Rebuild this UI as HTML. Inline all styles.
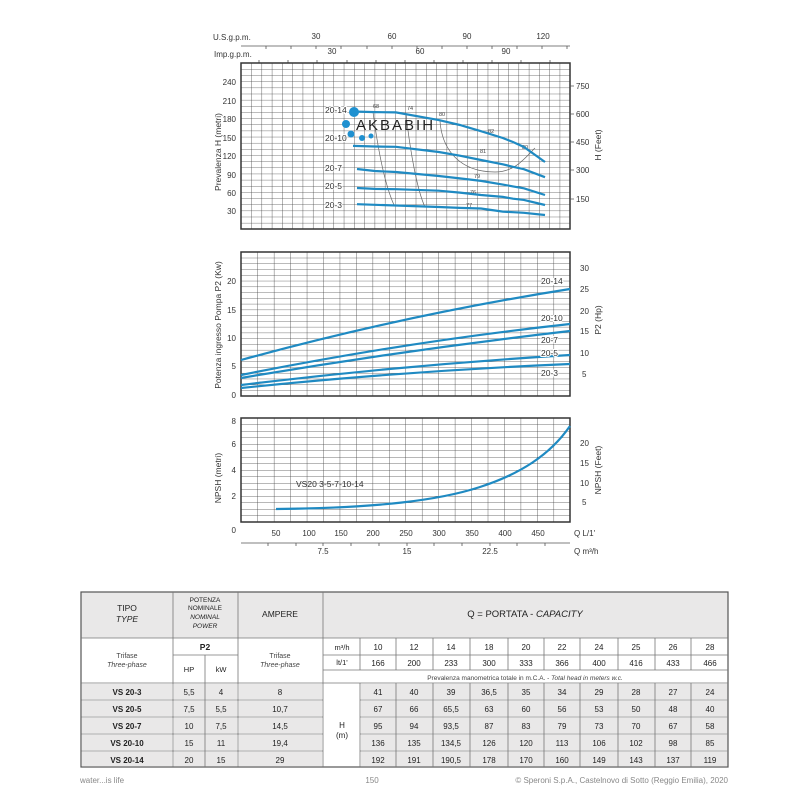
<!DOCTYPE html>
<html><head><meta charset="utf-8"><style>
html,body{margin:0;padding:0;background:#fff}
svg{display:block;font-family:"Liberation Sans",sans-serif}
</style></head><body>
<svg width="800" height="800" viewBox="0 0 800 800" xmlns="http://www.w3.org/2000/svg">
<defs>
<pattern id="g1" x="241" y="63" width="10.28" height="6.15" patternUnits="userSpaceOnUse">
<path d="M0,0V6.15M0,0H10.28" stroke="#444" stroke-width="0.8" fill="none"/></pattern>
<pattern id="g2" x="241" y="252" width="16.45" height="5.76" patternUnits="userSpaceOnUse">
<path d="M0,0V5.76M0,0H16.45" stroke="#444" stroke-width="0.8" fill="none"/></pattern>
<pattern id="g3" x="241" y="418" width="16.45" height="6.5" patternUnits="userSpaceOnUse">
<path d="M0,0V6.5M0,0H16.45" stroke="#444" stroke-width="0.8" fill="none"/></pattern>
</defs>

<!-- top axes -->
<g font-size="8" fill="#333">
<text x="213" y="40">U.S.g.p.m.</text>
<text x="214" y="57">Imp.g.p.m.</text>
<text x="316" y="39" text-anchor="middle">30</text><text x="392" y="39" text-anchor="middle">60</text>
<text x="467" y="39" text-anchor="middle">90</text><text x="543" y="39" text-anchor="middle">120</text>
<text x="332" y="54" text-anchor="middle">30</text><text x="420" y="54" text-anchor="middle">60</text>
<text x="506" y="54" text-anchor="middle">90</text>
</g>
<line x1="241" y1="46" x2="570" y2="46" stroke="#555" stroke-width="0.8"/>
<g stroke="#555" stroke-width="0.8">
<path d="M266,46v3M291,46v3M316,46v3M341,46v3M367,46v3M392,46v3M417,46v3M442,46v3M467,46v3M492,46v3M517,46v3M542,46v3M567,46v3"/>
<path d="M259,63v-3M288,63v-3M317,63v-3M347,63v-3M376,63v-3M405,63v-3M434,63v-3M463,63v-3M492,63v-3M521,63v-3M550,63v-3"/>
</g>

<!-- top chart -->
<rect x="241" y="63" width="329" height="166" fill="url(#g1)" stroke="#333" stroke-width="1.5"/>
<g font-size="8" fill="#333" text-anchor="end">
<text x="236" y="85">240</text><text x="236" y="104">210</text><text x="236" y="122">180</text>
<text x="236" y="141">150</text><text x="236" y="159">120</text><text x="236" y="178">90</text>
<text x="236" y="196">60</text><text x="236" y="214">30</text>
</g>
<g font-size="8" fill="#333">
<text x="576" y="89">750</text><text x="576" y="117">600</text><text x="576" y="145">450</text>
<text x="576" y="173">300</text><text x="576" y="202">150</text>
</g>
<g stroke="#555" stroke-width="0.8"><path d="M570,86h4M570,114h4M570,142h4M570,170h4M570,199h4"/></g>
<text transform="translate(221,152) rotate(-90)" font-size="8.5" fill="#333" text-anchor="middle">Prevalenza H (metri)</text>
<text transform="translate(601,145) rotate(-90)" font-size="8.5" fill="#333" text-anchor="middle">H (Feet)</text>
<g fill="none" stroke="#666" stroke-width="0.7">
<path d="M373,112 C378,150 385,185 394,205"/>
<path d="M406,114 C410,150 417,190 425,207"/>
<path d="M440,121 C442,150 460,172 495,172 C515,172 525,158 535,148"/>
</g>
<g font-size="5.5" fill="#444"><text x="373" y="108">68</text><text x="407" y="110">74</text><text x="439" y="116">80</text>
<text x="488" y="133">82</text><text x="522" y="149">80</text><text x="480" y="153">81</text><text x="474" y="178">79</text>
<text x="470" y="194">76</text><text x="466" y="207">77</text></g>
<g fill="none" stroke="#1f8ac2" stroke-width="2.2">
<polyline points="353,111.5 374.8,112.1 395.9,112.4 438.8,120.1 459.9,125 481,131.2 502.8,138 513,142 523.9,147 545,162"/>
<polyline points="353,145.9 374.8,146.5 395.9,146.8 438.8,152 459.9,155.7 481,160 502.8,164.3 513,166.8 523.9,169.2 545,177.2"/>
<polyline points="357,169 374.8,171 395.9,172 438.8,176 459.9,178.4 481,180.9 502.8,184.6 513,186.4 523.9,188.3 545,195"/>
<polyline points="357,188 374.8,188.9 395.9,189.2 438.8,190.7 459.9,192.6 481,195 502.8,196.9 513,198.7 523.9,199.9 545,205"/>
<polyline points="357,204.2 374.8,204.8 395.9,205.5 438.8,207 459.9,207.9 481,208.5 502.8,211.6 513,212.2 523.9,212.8 545,215"/>
</g>
<g font-size="8.5" fill="#333" stroke="#fff" stroke-width="2" paint-order="stroke">
<text x="325" y="113">20-14</text><text x="325" y="141">20-10</text><text x="325" y="171">20-7</text>
<text x="325" y="189">20-5</text><text x="325" y="208">20-3</text></g>
<g fill="#1e90d0"><circle cx="354" cy="112" r="5"/><circle cx="346" cy="124" r="4"/><circle cx="351" cy="134" r="3.5"/>
<circle cx="362" cy="138" r="3"/><circle cx="371" cy="136" r="2.5"/></g>
<text x="356" y="130" font-size="15" fill="#222" letter-spacing="2">AKBABIH</text>

<!-- middle chart -->
<rect x="241" y="252" width="329" height="144" fill="url(#g2)" stroke="#333" stroke-width="1.5"/>
<g font-size="8" fill="#333" text-anchor="end">
<text x="236" y="284">20</text><text x="236" y="313">15</text><text x="236" y="341">10</text>
<text x="236" y="369">5</text><text x="236" y="398">0</text></g>
<g font-size="8" fill="#333">
<text x="580" y="271">30</text><text x="580" y="292">25</text><text x="580" y="314">20</text>
<text x="580" y="334">15</text><text x="580" y="356">10</text><text x="582" y="377">5</text></g>
<text transform="translate(221,325) rotate(-90)" font-size="8.5" fill="#333" text-anchor="middle">Potenza ingresso Pompa P2 (Kw)</text>
<text transform="translate(601,320) rotate(-90)" font-size="8.5" fill="#333" text-anchor="middle">P2 (Hp)</text>
<g fill="none" stroke="#1f8ac2" stroke-width="2.2">
<path d="M241,360 Q405,315 570,289"/>
<path d="M241,375 Q405,342 570,324"/>
<path d="M241,378 Q405,350 570,331"/>
<path d="M241,385 Q405,365 570,355"/>
<path d="M241,388 Q405,371 570,364"/>
</g>
<g font-size="8.5" fill="#333" stroke="#fff" stroke-width="2" paint-order="stroke">
<text x="541" y="284">20-14</text><text x="541" y="321">20-10</text><text x="541" y="343">20-7</text>
<text x="541" y="356">20-5</text><text x="541" y="376">20-3</text></g>

<!-- bottom chart -->
<rect x="241" y="418" width="329" height="104" fill="url(#g3)" stroke="#333" stroke-width="1.5"/>
<g font-size="8" fill="#333" text-anchor="end">
<text x="236" y="424">8</text><text x="236" y="447">6</text><text x="236" y="473">4</text>
<text x="236" y="499">2</text><text x="236" y="533">0</text></g>
<g font-size="8" fill="#333">
<text x="580" y="446">20</text><text x="580" y="466">15</text><text x="580" y="486">10</text><text x="582" y="505">5</text></g>
<text transform="translate(221,478) rotate(-90)" font-size="8.5" fill="#333" text-anchor="middle">NPSH (metri)</text>
<text transform="translate(601,470) rotate(-90)" font-size="8.5" fill="#333" text-anchor="middle">NPSH (Feet)</text>
<path d="M276,509 C380,508 440,500 480,487 C520,474 550,455 570,426" fill="none" stroke="#1f8ac2" stroke-width="2.2"/>
<text x="296" y="487" font-size="8.5" fill="#333">VS20 3-5-7-10-14</text>
<g font-size="8" fill="#333" text-anchor="middle">
<text x="276" y="536">50</text><text x="309" y="536">100</text><text x="341" y="536">150</text>
<text x="373" y="536">200</text><text x="406" y="536">250</text><text x="439" y="536">300</text>
<text x="472" y="536">350</text><text x="505" y="536">400</text><text x="538" y="536">450</text>
<text x="323" y="554">7.5</text><text x="407" y="554">15</text><text x="490" y="554">22.5</text></g>
<text x="574" y="536" font-size="8" fill="#333">Q L/1'</text>
<text x="574" y="554" font-size="8" fill="#333">Q m³/h</text>
<line x1="241" y1="543" x2="570" y2="543" stroke="#555" stroke-width="0.8"/>
<g stroke="#555" stroke-width="0.8"><path d="M268,543v3M296,543v3M323,543v3M351,543v3M379,543v3M407,543v3M434,543v3M462,543v3M490,543v3M517,543v3M545,543v3"/></g>

<!-- table -->
<g>
<rect x="81" y="592" width="647" height="46" fill="#e9e8e8"/>
<g fill="#e9e8e8">
<rect x="82" y="684" width="90" height="15"/><rect x="82" y="701" width="90" height="15"/><rect x="82" y="718" width="90" height="15"/><rect x="82" y="735" width="90" height="15"/><rect x="82" y="752" width="90" height="14"/>
<rect x="174" y="684" width="63" height="15"/><rect x="174" y="701" width="63" height="15"/><rect x="174" y="718" width="63" height="15"/><rect x="174" y="735" width="63" height="15"/><rect x="174" y="752" width="63" height="14"/>
<rect x="239" y="684" width="83" height="15"/><rect x="239" y="701" width="83" height="15"/><rect x="239" y="718" width="83" height="15"/><rect x="239" y="735" width="83" height="15"/><rect x="239" y="752" width="83" height="14"/>
<rect x="361" y="684" width="367" height="15"/><rect x="361" y="701" width="367" height="15"/><rect x="361" y="718" width="367" height="15"/><rect x="361" y="735" width="367" height="15"/><rect x="361" y="752" width="367" height="14"/>
</g>
<g stroke="#777" stroke-width="0.8" fill="none">
<rect x="81" y="592" width="647" height="175" stroke="#555" stroke-width="1.2"/>
<path d="M81,638H728M173,655H238M323,655H728M323,670H728M323,683H728M81,683H323M81,700H323M81,717H323M81,734H323M81,751H323M360,700H728M360,717H728M360,734H728M360,751H728"/>
<path d="M173,592V767M238,592V767M323,592V767M205,655V767M360,638V670M360,683V767"/>
<path d="M396,638V670M433,638V670M470,638V670M508,638V670M544,638V670M580,638V670M618,638V670M655,638V670M691,638V670"/>
<path d="M396,683V767M433,683V767M470,683V767M508,683V767M544,683V767M580,683V767M618,683V767M655,683V767M691,683V767"/>
</g>
<g font-size="8.5" fill="#222" text-anchor="middle">
<text x="127" y="611">TIPO</text><text x="127" y="622" font-style="italic">TYPE</text>
<g font-size="6.5"><text x="205" y="602">POTENZA</text><text x="205" y="610">NOMINALE</text><text x="205" y="619" font-style="italic">NOMINAL</text><text x="205" y="628" font-style="italic">POWER</text></g>
<text x="280" y="617">AMPERE</text>
<text x="525" y="617" font-size="9.5">Q = PORTATA - <tspan font-style="italic">CAPACITY</tspan></text>
<g font-size="7" fill="#444"><text x="127" y="658">Trifase</text><text x="127" y="667" font-style="italic">Three-phase</text>
<text x="280" y="658">Trifase</text><text x="280" y="667" font-style="italic">Three-phase</text></g>
<text x="205" y="650" font-weight="bold">P2</text>
<text x="189" y="672" font-size="7.5">HP</text><text x="221" y="672" font-size="7.5">kW</text>
<text x="342" y="650" font-size="7.5">m³/h</text><text x="342" y="665" font-size="7.5">lt/1'</text>
<text x="525" y="680" font-size="6.5" fill="#444">Prevalenza manometrica totale in m.C.A. - <tspan font-style="italic">Total head in meters w.c.</tspan></text>
<text x="342" y="728" font-size="8">H</text><text x="342" y="738" font-size="8">(m)</text>
</g>
<g font-size="8" fill="#222" text-anchor="middle">
<text x="378" y="650">10</text><text x="414" y="650">12</text><text x="451" y="650">14</text><text x="489" y="650">18</text><text x="526" y="650">20</text><text x="562" y="650">22</text><text x="599" y="650">24</text><text x="636" y="650">25</text><text x="673" y="650">26</text><text x="710" y="650">28</text>
<text x="378" y="666">166</text><text x="414" y="666">200</text><text x="451" y="666">233</text><text x="489" y="666">300</text><text x="526" y="666">333</text><text x="562" y="666">366</text><text x="599" y="666">400</text><text x="636" y="666">416</text><text x="673" y="666">433</text><text x="710" y="666">466</text>
<g font-weight="bold"><text x="127" y="695">VS 20-3</text><text x="127" y="712">VS 20-5</text><text x="127" y="729">VS 20-7</text><text x="127" y="746">VS 20-10</text><text x="127" y="763">VS 20-14</text></g>
<text x="189" y="695">5,5</text><text x="221" y="695">4</text><text x="280" y="695">8</text>
<text x="189" y="712">7,5</text><text x="221" y="712">5,5</text><text x="280" y="712">10,7</text>
<text x="189" y="729">10</text><text x="221" y="729">7,5</text><text x="280" y="729">14,5</text>
<text x="189" y="746">15</text><text x="221" y="746">11</text><text x="280" y="746">19,4</text>
<text x="189" y="763">20</text><text x="221" y="763">15</text><text x="280" y="763">29</text>
<text x="378" y="695">41</text><text x="414" y="695">40</text><text x="451" y="695">39</text><text x="489" y="695">36,5</text><text x="526" y="695">35</text><text x="562" y="695">34</text><text x="599" y="695">29</text><text x="636" y="695">28</text><text x="673" y="695">27</text><text x="710" y="695">24</text>
<text x="378" y="712">67</text><text x="414" y="712">66</text><text x="451" y="712">65,5</text><text x="489" y="712">63</text><text x="526" y="712">60</text><text x="562" y="712">56</text><text x="599" y="712">53</text><text x="636" y="712">50</text><text x="673" y="712">48</text><text x="710" y="712">40</text>
<text x="378" y="729">95</text><text x="414" y="729">94</text><text x="451" y="729">93,5</text><text x="489" y="729">87</text><text x="526" y="729">83</text><text x="562" y="729">79</text><text x="599" y="729">73</text><text x="636" y="729">70</text><text x="673" y="729">67</text><text x="710" y="729">58</text>
<text x="378" y="746">136</text><text x="414" y="746">135</text><text x="451" y="746">134,5</text><text x="489" y="746">126</text><text x="526" y="746">120</text><text x="562" y="746">113</text><text x="599" y="746">106</text><text x="636" y="746">102</text><text x="673" y="746">98</text><text x="710" y="746">85</text>
<text x="378" y="763">192</text><text x="414" y="763">191</text><text x="451" y="763">190,5</text><text x="489" y="763">178</text><text x="526" y="763">170</text><text x="562" y="763">160</text><text x="599" y="763">149</text><text x="636" y="763">143</text><text x="673" y="763">137</text><text x="710" y="763">119</text>
</g>
</g>
<g font-size="8" fill="#888">
<text x="80" y="783">water...is life</text>
<text x="372" y="783" text-anchor="middle">150</text>
<text x="728" y="783" text-anchor="end">© Speroni S.p.A., Castelnovo di Sotto (Reggio Emilia), 2020</text>
</g>
</svg>
</body></html>
